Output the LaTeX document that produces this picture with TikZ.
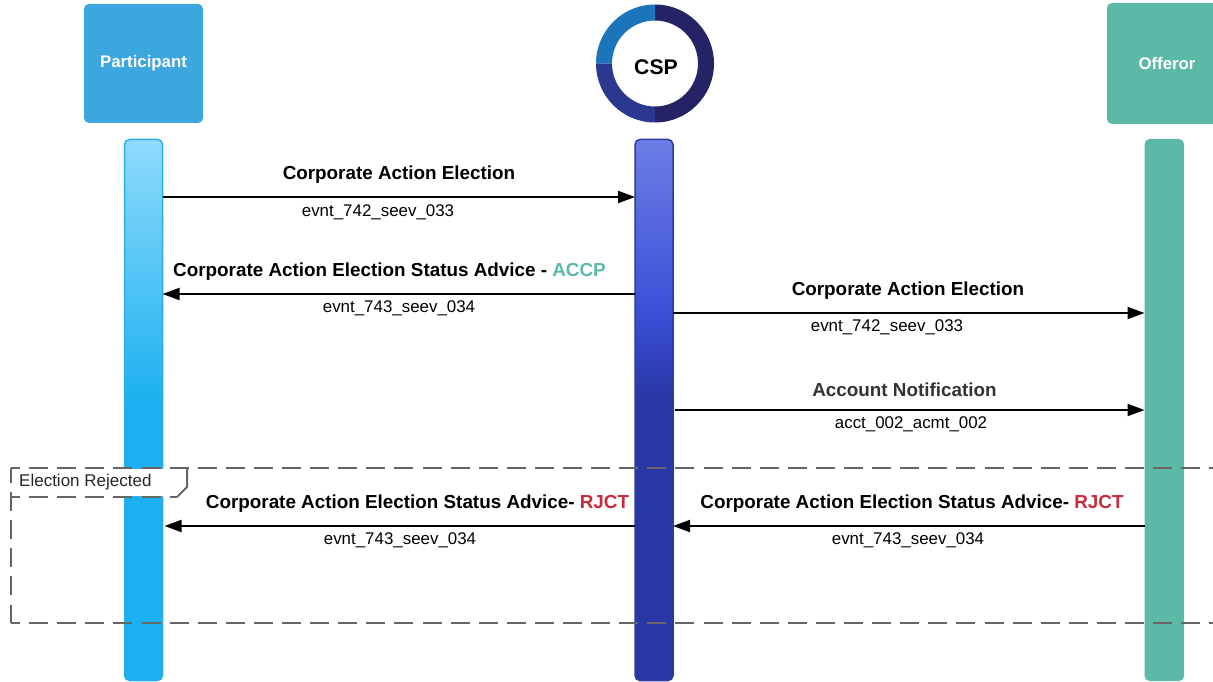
\documentclass[tikz,border=0pt]{standalone}
\usepackage{fontspec}
\setmainfont{Liberation Sans}
\usetikzlibrary{arrows.meta}
\definecolor{partblue}{HTML}{3CA6DF}
\definecolor{offgreen}{HTML}{5CB9A7}
\definecolor{rjctred}{HTML}{C92A3C}
\definecolor{framegray}{HTML}{666666}
\definecolor{ringa}{HTML}{252266}
\definecolor{ringb}{HTML}{2A388F}
\definecolor{ringc}{HTML}{1A75BB}
\definecolor{plifeedge}{HTML}{2BAEE8}
\definecolor{clifeedge}{HTML}{2B3A9E}
\definecolor{ptop}{HTML}{8FDBFC}
\definecolor{pbot}{HTML}{1BB0F0}
\definecolor{ctop}{HTML}{6C7EE6}
\definecolor{cmid}{HTML}{3B50D8}
\definecolor{cbot}{HTML}{2837A5}
\pgfdeclareverticalshading{partlife}{100bp}{color(0bp)=(pbot);color(25bp)=(pbot);color(50.6bp)=(pbot);color(75bp)=(ptop);color(100bp)=(ptop)}
\pgfdeclareverticalshading{csplife}{100bp}{color(0bp)=(cbot);color(25bp)=(cbot);color(50.6bp)=(cbot);color(59.2bp)=(cmid);color(75bp)=(ctop);color(100bp)=(ctop)}
\tikzset{
  actorbox/.style={rounded corners=5pt,minimum width=119pt,minimum height=119pt,inner sep=0pt,outer sep=0pt,text=white,font=\fontsize{16.8}{20}\selectfont\bfseries},
  lifebar/.style={rounded corners=5pt,minimum width=38pt,minimum height=541pt,inner sep=0pt,outer sep=0pt},
  msg/.style={line width=2pt,-{Triangle[length=17pt,width=12pt]},black},
  msgtitle/.style={font=\fontsize{18.85}{22}\selectfont\bfseries,inner sep=0pt},
  msgcode/.style={font=\fontsize{16.9}{20}\selectfont,inner sep=0pt},
  framedash/.style={draw=framegray,line width=2pt,dash pattern=on 19pt off 9.1pt,dash phase=10pt}
}
\begin{document}
\begin{tikzpicture}[x=1pt,y=-1pt]
\useasboundingbox (0,0) rectangle (1213,682);
\clip (0,0) rectangle (1213,682);
% actors
\node[actorbox,fill=partblue] (participant) at (143.5,63.5) {Participant};
\node[actorbox,fill=offgreen,minimum width=120pt,minimum height=121pt] (offeror) at (1167,63.5) {Offeror};
% ring
\fill[ringa] (655,4.5) arc[start angle=90,end angle=-90,radius=59pt] -- (655,106.5) arc[start angle=-90,end angle=90,radius=43pt] -- cycle;
\fill[ringb] (655,122.5) arc[start angle=270,end angle=180,radius=59pt] -- (612,63.5) arc[start angle=180,end angle=270,radius=43pt] -- cycle;
\fill[ringc] (596,63.5) arc[start angle=180,end angle=90,radius=59pt] -- (655,20.5) arc[start angle=90,end angle=180,radius=43pt] -- cycle;
\node[font=\fontsize{21.2}{26}\selectfont\bfseries,inner sep=0pt] (csp) at (656,67) {CSP};
% lifelines
\node[lifebar,shading=partlife,draw=plifeedge,line width=1.5pt] (plife) at (143.5,410) {};
\node[lifebar,shading=csplife,draw=clifeedge,line width=1.5pt] (clife) at (654,410) {};
\node[lifebar,fill=offgreen,minimum width=39.5pt,minimum height=542pt] (olife) at (1164.3,410) {};
% frame
\draw[framedash] (11,468) -- (1225,468);
\draw[framedash] (11,623) -- (1225,623);
\fill[white] (11,469) -- (186,469) -- (186,487) -- (177,496) -- (11,496) -- cycle;
\draw[framedash,dash phase=4pt] (11,468) -- (11,623);
\draw[draw=framegray,line width=2pt] (187,468) -- (187,487) -- (177,497);
\draw[framedash] (11,497) -- (177,497);
\node[font=\fontsize{17}{20}\selectfont,anchor=west,inner sep=0pt,text=black!85] (framelabel) at (19,482) {Election Rejected};
% messages
\draw[msg] (plife.east |- 0,197) -- (clife.west |- 0,197);
\draw[msg] (clife.west |- 0,294) -- (plife.east |- 0,294);
\draw[msg] (clife.east |- 0,313) -- (olife.west |- 0,313);
\draw[msg,shorten <=1.5pt] (clife.east |- 0,410) -- (olife.west |- 0,410);
\draw[msg,shorten >=2pt] (clife.west |- 0,526) -- (plife.east |- 0,526);
\draw[msg] (olife.west |- 0,526) -- (clife.east |- 0,526);
% labels
\node[msgtitle] (t1) at (399,175) {Corporate Action Election};
\node[msgcode] (c1) at (378,212) {evnt\_742\_seev\_033};
\node[msgtitle] (t2) at (389.5,272) {Corporate Action Election Status Advice - \textcolor{offgreen}{ACCP}};
\node[msgcode] (c2) at (399,308.2) {evnt\_743\_seev\_034};
\node[msgtitle] (t3) at (908,291) {Corporate Action Election};
\node[msgcode] (c3) at (887,327.2) {evnt\_742\_seev\_033};
\node[msgtitle,text=black!80] (t4) at (904.5,389.5) {Account Notification};
\node[msgcode] (c4) at (911,424.2) {acct\_002\_acmt\_002};
\node[msgtitle] (t5) at (417.5,504) {Corporate Action Election Status Advice- \textcolor{rjctred}{RJCT}};
\node[msgcode] (c5) at (400,540.2) {evnt\_743\_seev\_034};
\node[msgtitle] (t6) at (912,504) {Corporate Action Election Status Advice- \textcolor{rjctred}{RJCT}};
\node[msgcode] (c6) at (908,540.2) {evnt\_743\_seev\_034};
\end{tikzpicture}
\end{document}
